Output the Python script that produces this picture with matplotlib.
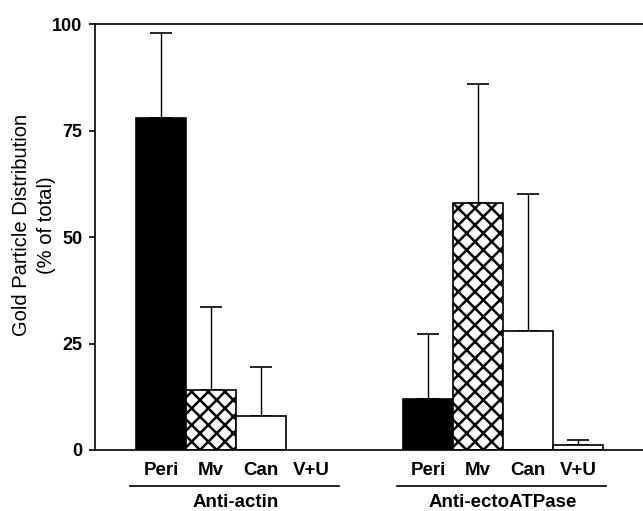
import matplotlib
matplotlib.use("Agg")
import matplotlib.pyplot as plt
import numpy as np

plt.rcParams['font.family'] = ['Liberation Sans', 'DejaVu Sans']
plt.rcParams['hatch.linewidth'] = 1.8

categories = ["Peri", "Mv", "Can", "V+U"]
groups = ["Anti-actin", "Anti-ectoATPase"]
actin_vals = [78, 14, 8, 0]
actin_err = [20, 19.5, 11.5, 0]
ecto_vals = [12, 58, 28, 1.2]
ecto_err = [15.3, 28, 32, 1.1]
yticks = [0, 25, 50, 75, 100]

fig = plt.figure(figsize=(6.43, 5.11), dpi=100)
ax = fig.add_axes([95/643, 1-450/511, 548/643, 426/511])

styles = [dict(facecolor='black', hatch=None),
          dict(facecolor='white', hatch='xx'),
          dict(facecolor='white', hatch=None),
          dict(facecolor='white', hatch=None)]

FS = 13.5
offsets = [0, 5.34]
for g, (vals, errs) in enumerate([(actin_vals, actin_err), (ecto_vals, ecto_err)]):
    xs = offsets[g] + np.arange(len(categories))
    for i, (x, v, e) in enumerate(zip(xs, vals, errs)):
        if v > 0:
            ax.bar(x, v, width=1.0, color=styles[i]['facecolor'], edgecolor='black',
                   hatch=styles[i]['hatch'], linewidth=1.2, zorder=2)
            ax.errorbar(x, v, yerr=[[0], [e]], fmt='none', ecolor='black',
                        elinewidth=1.0, capsize=8, capthick=1.2, zorder=1)
        ax.text(x, -2.8, categories[i], ha='center', va='top', fontsize=FS,
                fontweight='bold')
    ax.plot([xs[0] - 0.63, xs[-1] + 0.56], [-8.5, -8.5], color='black', lw=1.2,
            clip_on=False)
    ax.text(xs.mean(), -10.3, groups[g], ha='center', va='top', fontsize=FS,
            fontweight='bold')

ax.set_xlim(-1.32, 9.64)
ax.set_ylim(0, 100)
ax.set_yticks(yticks)
ax.set_yticklabels([str(t) for t in yticks], fontsize=13, fontweight='bold')
ax.set_xticks([])
ax.spines['right'].set_visible(False)
for s in ['left', 'top', 'bottom']:
    ax.spines[s].set_linewidth(1.2)
ax.tick_params(axis='y', direction='out', length=4, width=1.2, pad=5)
fig.text(34/643, 1-225/511, "Gold Particle Distribution\n(% of total)",
         rotation=90, ha='center', va='center', fontsize=14.5,
         linespacing=1.35, multialignment='center')

fig.savefig("out.png", dpi=100)
